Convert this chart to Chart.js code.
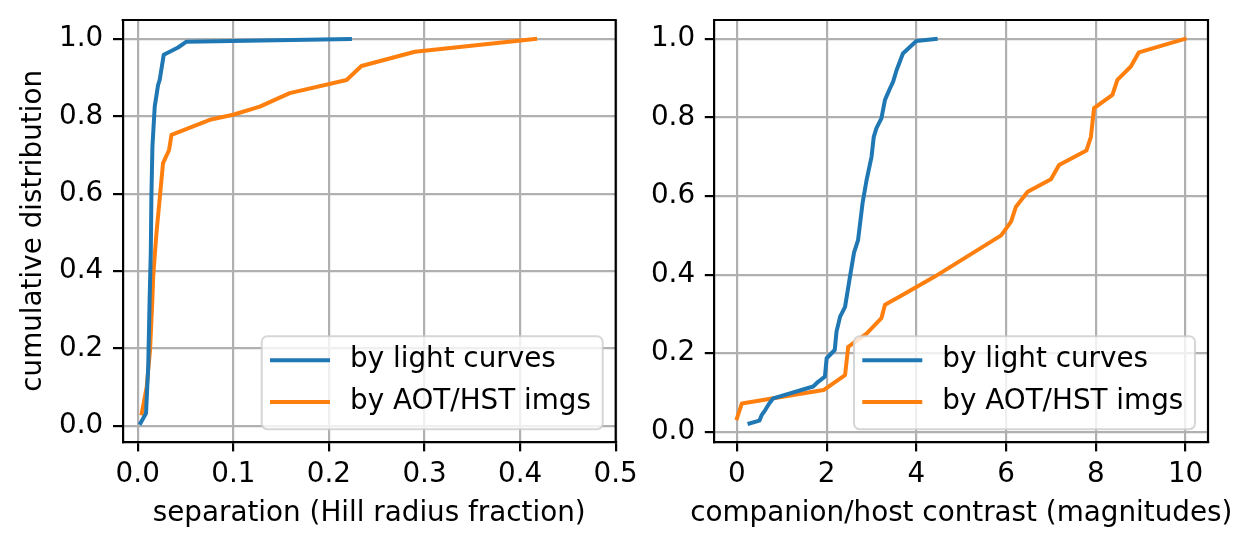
<!DOCTYPE html>
<html><head><meta charset="utf-8">
<script src="https://cdn.jsdelivr.net/npm/chart.js@4/dist/chart.umd.min.js"></script>
<style>
html,body{margin:0;padding:0;background:#fff;overflow:hidden}
#wrap{position:relative;width:1252px;height:549px;background:#fff}
canvas{position:absolute;top:0}
</style></head><body>
<div id="wrap">
<canvas id="c1" style="left:0;width:640px;height:549px"></canvas>
<canvas id="c2" style="left:640px;width:612px;height:549px"></canvas>
</div>
<script>
// ---------- data ----------
const seriesLabels = ['by light curves', 'by AOT/HST imgs'];
const seriesColors = ['#1f77b4', '#ff7f0e'];

// left panel: separation (Hill radius fraction)
const sepLightX = [0.003, 0.0087, 0.011, 0.0125, 0.0137, 0.0143, 0.0154, 0.0178, 0.0213, 0.023, 0.0272, 0.0335, 0.0422, 0.051, 0.222];
const sepLightY = [0.007, 0.032, 0.153, 0.33, 0.45, 0.59, 0.722, 0.825, 0.881, 0.894, 0.959, 0.967, 0.978, 0.993, 1.0];
const sepImgX = [0.0042, 0.0094, 0.0129, 0.0153, 0.0162, 0.0196, 0.0265, 0.0328, 0.0353, 0.0754, 0.0998, 0.1277, 0.159, 0.2185, 0.234, 0.29, 0.4157];
const sepImgY = [0.032, 0.10, 0.196, 0.325, 0.386, 0.498, 0.679, 0.713, 0.752, 0.791, 0.804, 0.825, 0.86, 0.894, 0.93, 0.967, 1.0];

// right panel: companion/host contrast (magnitudes)
const conLightX = [0.28, 0.50, 0.555, 0.63, 0.72, 0.81, 1.70, 1.81, 1.96, 2.0, 2.18, 2.22, 2.30, 2.41, 2.52, 2.61, 2.70, 2.80, 2.89, 3.0, 3.05, 3.11, 3.22, 3.30, 3.41, 3.48, 3.56, 3.70, 4.0, 4.43];
const conLightY = [0.021, 0.028, 0.043, 0.055, 0.072, 0.085, 0.115, 0.127, 0.14, 0.187, 0.208, 0.255, 0.293, 0.318, 0.395, 0.456, 0.488, 0.582, 0.641, 0.70, 0.751, 0.773, 0.798, 0.845, 0.874, 0.891, 0.921, 0.963, 0.995, 1.0];
const conImgX = [0.0, 0.11, 1.93, 2.41, 2.48, 2.89, 3.22, 3.30, 3.63, 4.41, 5.89, 6.11, 6.22, 6.48, 7.0, 7.18, 7.79, 7.89, 7.96, 8.37, 8.48, 8.78, 8.96, 9.98];
const conImgY = [0.034, 0.072, 0.106, 0.144, 0.216, 0.25, 0.289, 0.323, 0.344, 0.395, 0.50, 0.535, 0.573, 0.611, 0.643, 0.679, 0.716, 0.751, 0.824, 0.858, 0.896, 0.930, 0.966, 1.0];

// tick labels
const sepTicks = [0, 0.1, 0.2, 0.3, 0.4, 0.5];
const conTicks = [0, 2, 4, 6, 8, 10];
const cdfTicks = [0, 0.2, 0.4, 0.6, 0.8, 1.0];

// ---------- helpers ----------
const FONT = {family: '"DejaVu Sans", sans-serif', size: 27.8, lineHeight: 1.2};
const FONT_CSS = '27.8px "DejaVu Sans", sans-serif';
const zip = (xs, ys) => xs.map((x, i) => ({x: x, y: ys[i]}));

function lineDS(label, color, pts) {
  return {label: label, data: pts, borderColor: color, backgroundColor: color,
    borderWidth: 4, pointRadius: 0, tension: 0, fill: false,
    borderCapStyle: 'square', borderJoinStyle: 'round'};
}

const mplPlugin = {
  id: 'mplFrame',
  afterDatasetsDraw(chart, args, opts) {
    const ctx = chart.ctx, a = chart.chartArea;
    ctx.save();
    // top & right spines
    ctx.strokeStyle = '#000'; ctx.lineWidth = 2.2; ctx.lineCap = 'square';
    ctx.beginPath();
    ctx.moveTo(a.left, a.top); ctx.lineTo(a.right, a.top); ctx.lineTo(a.right, a.bottom);
    ctx.stroke();
    // legend (lower right, inside axes)
    const w = 341, h = 93;
    const x0 = a.right - 13 - w, y0 = a.bottom - 12.5 - h;
    const r = 5.6;
    ctx.beginPath();
    ctx.moveTo(x0 + r, y0); ctx.lineTo(x0 + w - r, y0); ctx.arcTo(x0 + w, y0, x0 + w, y0 + r, r);
    ctx.lineTo(x0 + w, y0 + h - r); ctx.arcTo(x0 + w, y0 + h, x0 + w - r, y0 + h, r);
    ctx.lineTo(x0 + r, y0 + h); ctx.arcTo(x0, y0 + h, x0, y0 + h - r, r);
    ctx.lineTo(x0, y0 + r); ctx.arcTo(x0, y0, x0 + r, y0, r);
    ctx.closePath();
    ctx.fillStyle = 'rgba(255,255,255,0.8)'; ctx.fill();
    ctx.lineWidth = 2; ctx.strokeStyle = 'rgba(204,204,204,0.8)'; ctx.stroke();
    ctx.font = FONT_CSS; ctx.textBaseline = 'middle'; ctx.textAlign = 'left';
    chart.data.datasets.forEach((ds, i) => {
      const cy = y0 + 24 + i * 41.7;
      ctx.beginPath(); ctx.lineCap = 'butt';
      ctx.moveTo(x0 + 8.3, cy); ctx.lineTo(x0 + 68.3, cy);
      ctx.strokeStyle = ds.borderColor; ctx.lineWidth = 4; ctx.stroke();
      ctx.fillStyle = '#000';
      ctx.fillText(ds.label, x0 + 88.3, cy);
    });
    // x-axis title (free width, like matplotlib)
    if (opts && opts.xTitle) {
      ctx.fillStyle = '#000'; ctx.textAlign = 'center'; ctx.textBaseline = 'middle';
      ctx.fillText(opts.xTitle, (a.left + a.right) / 2, 513.5);
    }
    ctx.restore();
  }
};

function makeChart(id, cfg) {
  const canvas = document.getElementById(id);
  canvas.width = cfg.w; canvas.height = 549;
  const gridOpts = {color: '#b0b0b0', lineWidth: 2.2, tickColor: '#000', tickWidth: 2.2, tickLength: 9.7, drawTicks: true};
  return new Chart(canvas, {
    type: 'line',
    data: {datasets: cfg.series.map((pts, i) => lineDS(seriesLabels[i], seriesColors[i], pts))},
    options: {
      responsive: false, animation: false, devicePixelRatio: 1,
      layout: {padding: {left: 0, top: 20, right: cfg.padRight, bottom: 0}},
      plugins: {legend: {display: false}, tooltip: {enabled: false}, mplFrame: {xTitle: cfg.xTitle}},
      scales: {
        x: {
          type: 'linear', min: cfg.xmin, max: cfg.xmax,
          afterBuildTicks: s => { s.ticks = cfg.xticks.map(v => ({value: v})); },
          afterFit: s => { s.height = 107.3; s.paddingLeft = 0; s.paddingRight = 0; },
          grid: gridOpts, border: {color: '#000', width: 2.2},
          ticks: {color: '#000', font: FONT, padding: 7, maxRotation: 0, autoSkip: false, callback: cfg.xfmt},
          title: {display: false}
        },
        y: {
          type: 'linear', min: cfg.ymin, max: cfg.ymax,
          afterBuildTicks: s => { s.ticks = cdfTicks.map(v => ({value: v})); },
          afterFit: s => { s.width = cfg.yW; s.paddingTop = 0; s.paddingBottom = 0; },
          grid: gridOpts, border: {color: '#000', width: 2.2},
          ticks: {color: '#000', font: FONT, padding: 9.7, autoSkip: false, callback: v => v.toFixed(1)},
          title: {display: !!cfg.yTitle, text: cfg.yTitle || '', color: '#000', font: FONT, padding: {top: 17, bottom: 0}}
        }
      }
    },
    plugins: [mplPlugin]
  });
}

makeChart('c1', {
  w: 640, padRight: 24.3, yW: 122.7,
  series: [zip(sepLightX, sepLightY), zip(sepImgX, sepImgY)],
  xmin: -0.0157, xmax: 0.5, xticks: sepTicks, xfmt: v => v.toFixed(1),
  ymin: -0.0414, ymax: 1.0491,
  xTitle: 'separation (Hill radius fraction)', yTitle: 'cumulative distribution'
});

makeChart('c2', {
  w: 612, padRight: 44, yW: 74.5,
  series: [zip(conLightX, conLightY), zip(conImgX, conImgY)],
  xmin: -0.5, xmax: 10.5, xticks: conTicks, xfmt: v => String(Math.round(v)),
  ymin: -0.0255, ymax: 1.0484,
  xTitle: 'companion/host contrast (magnitudes)', yTitle: ''
});
</script>
</body></html>
